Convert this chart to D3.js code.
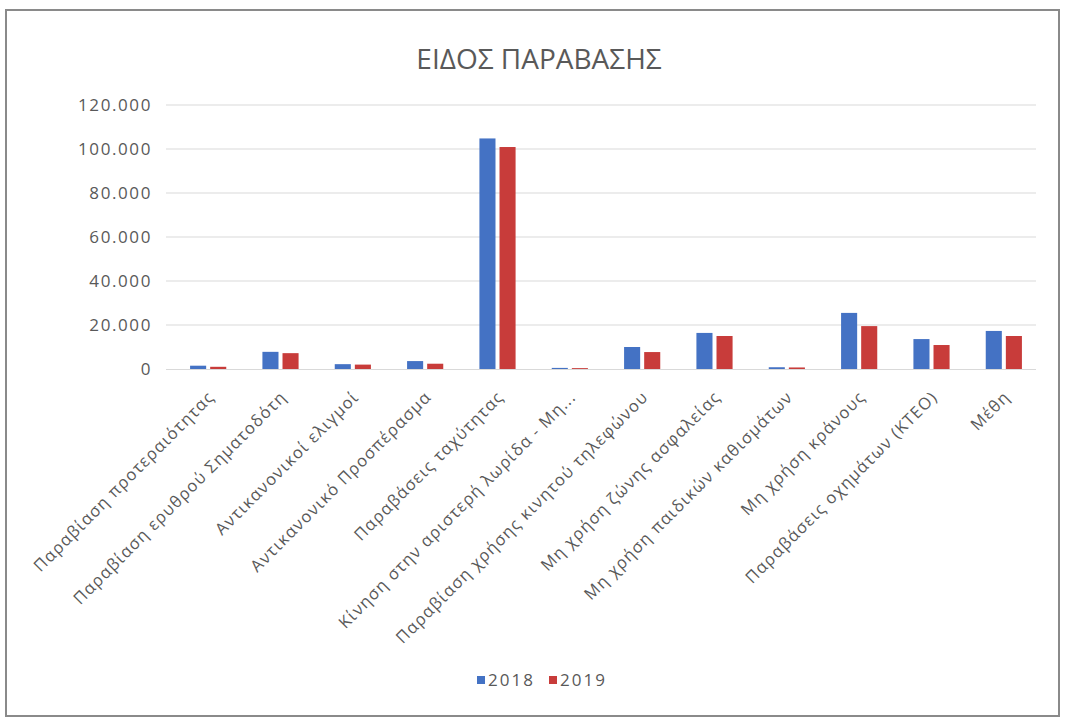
<!DOCTYPE html>
<html>
<head>
<meta charset="utf-8">
<script src="https://cdn.jsdelivr.net/npm/d3@7"></script>
<style>
  body { margin: 0; background: #fff; }
  svg { display: block; }
</style>
</head>
<body>
<svg id="chart" width="1065" height="720"></svg>
<script>
// Violation types (ΕΙΔΟΣ ΠΑΡΑΒΑΣΗΣ), counts per year
const categories = [
  "Παραβίαση προτεραιότητας",
  "Παραβίαση ερυθρού Σηματοδότη",
  "Αντικανονικοί ελιγμοί",
  "Αντικανονικό Προσπέρασμα",
  "Παραβάσεις ταχύτητας",
  "Κίνηση στην αριστερή λωρίδα - Μη...",
  "Παραβίαση χρήσης κινητού τηλεφώνου",
  "Μη χρήση ζώνης ασφαλείας",
  "Μη χρήση παιδικών καθισμάτων",
  "Μη χρήση κράνους",
  "Παραβάσεις οχημάτων (ΚΤΕΟ)",
  "Μέθη"
];
const years = ["2018", "2019"];
const values2018 = [1500, 7800, 2200, 3600, 104800, 500, 10000, 16400, 800, 25500, 13600, 17300];
const values2019 = [1000, 7200, 2000, 2400, 100900, 400, 7700, 15000, 700, 19500, 10900, 15000];
const yTicks = [0, 20000, 40000, 60000, 80000, 100000, 120000];
const colors = ["#4472C4", "#C83C3A"];

const svg = d3.select("#chart");
const font = "'Open Sans', 'DejaVu Sans', sans-serif";
const textColor = "#595959";

// outer frame
svg.append("rect")
  .attr("x", 6).attr("y", 10).attr("width", 1053).attr("height", 706)
  .attr("fill", "#fff").attr("stroke", "#8a8a8a").attr("stroke-width", 2);

const plot = { left: 172, right: 1040, top: 105, bottom: 369 };

const x = d3.scaleBand().domain(categories).range([plot.left, plot.right]).paddingInner(0).paddingOuter(0);
const xSub = d3.scaleBand().domain(years).range([0, x.bandwidth()]).paddingInner(0.2).paddingOuter(0.9);
const y = d3.scaleLinear().domain([0, 120000]).range([plot.bottom, plot.top]);

const fmt = v => d3.format(",")(v).replace(/,/g, ".");

// gridlines
svg.append("g")
  .selectAll("line").data(yTicks.filter(d => d > 0)).join("line")
  .attr("x1", plot.left - 6).attr("x2", plot.right - 4)
  .attr("y1", d => y(d)).attr("y2", d => y(d))
  .attr("stroke", "#d9d9d9").attr("stroke-width", 1);

// y axis labels
const yAxis = d3.axisLeft(y).tickValues(yTicks).tickFormat(fmt).tickSize(0).tickPadding(20);
const gy = svg.append("g").attr("transform", `translate(${plot.left},0)`).call(yAxis);
gy.select(".domain").remove();
gy.selectAll("text")
  .attr("fill", textColor)
  .style("font-family", font).style("font-size", "17px").style("letter-spacing", "1.6px");

// bars
const series = [values2018, values2019];
const groups = svg.append("g").selectAll("g").data(years).join("g")
  .attr("fill", (d, i) => colors[i]);
groups.selectAll("rect")
  .data((yr, i) => series[i].map((v, j) => ({ cat: categories[j], v, yr })))
  .join("rect")
  .attr("x", d => x(d.cat) + xSub(d.yr))
  .attr("width", xSub.bandwidth())
  .attr("y", d => y(d.v))
  .attr("height", d => y(0) - y(d.v));

// x axis baseline
svg.append("line")
  .attr("x1", plot.left - 6).attr("x2", plot.right - 4)
  .attr("y1", y(0) + 0.5).attr("y2", y(0) + 0.5)
  .attr("stroke", "#d9d9d9");

// category labels, rotated
const xAxis = d3.axisBottom(x).tickSize(0).tickPadding(0);
const gx = svg.append("g").attr("transform", `translate(0,${plot.bottom})`).call(xAxis);
gx.select(".domain").remove();
gx.selectAll("text")
  .attr("fill", textColor)
  .style("font-family", font).style("font-size", "16.5px").style("letter-spacing", "1.2px")
  .attr("text-anchor", "end")
  .attr("dy", "0.35em")
  .attr("transform", "translate(3,25) rotate(-45)");

// title
svg.append("text")
  .attr("x", 539).attr("y", 69)
  .attr("text-anchor", "middle")
  .attr("fill", textColor)
  .style("font-family", font).style("font-size", "28px")
  .text("ΕΙΔΟΣ ΠΑΡΑΒΑΣΗΣ");

// legend
const legend = svg.append("g").attr("transform", "translate(477,680)");
const items = legend.selectAll("g").data(years).join("g")
  .attr("transform", (d, i) => `translate(${i * 72},0)`);
items.append("rect").attr("x", 0).attr("y", -4).attr("width", 8).attr("height", 8)
  .attr("fill", (d, i) => colors[i]);
items.append("text").attr("x", 11).attr("y", 0).attr("dy", "0.35em")
  .attr("fill", textColor)
  .style("font-family", font).style("font-size", "17px").style("letter-spacing", "2px")
  .text(d => d);
</script>
</body>
</html>
